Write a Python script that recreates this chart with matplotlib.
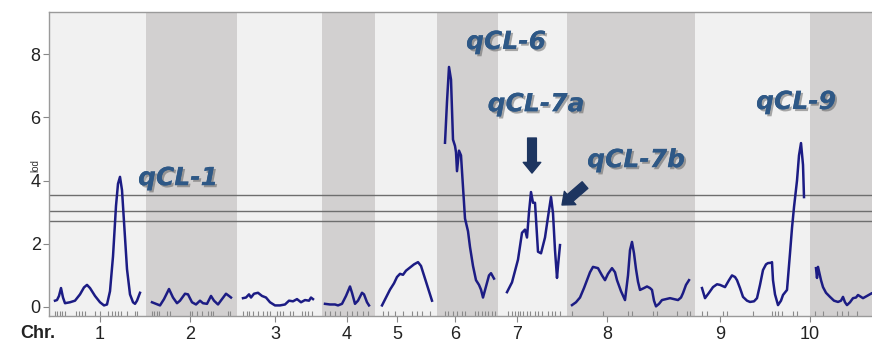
import numpy as np
import matplotlib
matplotlib.use("Agg")
import matplotlib.pyplot as plt
from matplotlib import patheffects as pe

# ---------------- data ----------------
chrom_names = ["1", "2", "3", "4", "5", "6", "7", "8", "9", "10"]
chrom_lengths = [97, 91, 85, 53, 62, 61, 69, 128, 115, 75]
chrom_label_pos = [51, 44, 38, 25, 22, 18, 19, 40, 25, 0]

chr1_pos = [6, 8, 10, 12, 14, 16, 21, 26, 31, 35, 38, 41, 46, 51, 55, 58, 61, 64, 67, 69, 71, 73, 75, 78, 81, 84, 86, 88, 91]
chr1_lod = [0.2, 0.22, 0.35, 0.6, 0.3, 0.12, 0.15, 0.2, 0.4, 0.62, 0.7, 0.6, 0.35, 0.15, 0.05, 0.08, 0.5, 1.6, 3.2, 3.9, 4.12, 3.7, 2.7, 1.2, 0.4, 0.15, 0.1, 0.2, 0.45]
chr2_pos = [6, 10, 14, 18, 23, 27, 31, 34, 39, 42, 46, 50, 54, 57, 61, 65, 68, 72, 76, 80, 83, 85]
chr2_lod = [0.15, 0.1, 0.05, 0.25, 0.57, 0.3, 0.12, 0.2, 0.42, 0.4, 0.15, 0.08, 0.2, 0.12, 0.1, 0.35, 0.2, 0.08, 0.25, 0.42, 0.35, 0.3]
chr3_pos = [6, 9, 12, 14, 17, 21, 25, 29, 33, 38, 43, 48, 52, 56, 60, 64, 68, 72, 74, 76]
chr3_lod = [0.28, 0.3, 0.4, 0.3, 0.42, 0.45, 0.35, 0.3, 0.15, 0.05, 0.05, 0.08, 0.2, 0.18, 0.25, 0.15, 0.22, 0.2, 0.3, 0.25]
chr4_pos = [3, 8, 13, 16, 20, 24, 28, 30, 33, 36, 40, 42, 45, 47]
chr4_lod = [0.1, 0.08, 0.08, 0.05, 0.1, 0.35, 0.65, 0.45, 0.1, 0.2, 0.45, 0.4, 0.15, 0.05]
chr5_pos = [7, 11, 15, 19, 22, 25, 28, 31, 35, 39, 43, 46, 49, 53, 57]
chr5_lod = [0.05, 0.3, 0.55, 0.75, 0.95, 1.05, 1.02, 1.15, 1.25, 1.35, 1.42, 1.3, 1.0, 0.6, 0.2]
chr6_pos = [8, 10, 12, 14, 16, 18, 19, 20, 22, 24, 26, 28, 31, 33, 36, 39, 42, 44, 46, 49, 52, 54, 57]
chr6_lod = [5.2, 6.5, 7.6, 7.2, 5.3, 5.1, 4.9, 4.3, 4.95, 4.8, 3.8, 2.8, 2.4, 1.9, 1.3, 0.85, 0.7, 0.55, 0.3, 0.65, 1.0, 1.07, 0.9]
chr7_pos = [9, 14, 20, 24, 27, 29, 31, 33, 35, 37, 40, 43, 47, 50, 53, 55, 57, 59, 60, 62]
chr7_lod = [0.47, 0.78, 1.5, 2.35, 2.45, 2.2, 3.0, 3.64, 3.3, 3.3, 1.75, 1.7, 2.2, 2.85, 3.48, 2.97, 1.8, 0.92, 1.3, 1.96]
chr8_pos = [5, 9, 13, 17, 20, 23, 26, 31, 35, 38, 41, 45, 48, 50, 54, 58, 61, 63, 65, 67, 69, 71, 73, 77, 80, 83, 85, 87, 89, 92, 95, 99, 103, 107, 111, 114, 116, 119, 122]
chr8_lod = [0.06, 0.15, 0.3, 0.6, 0.85, 1.1, 1.27, 1.23, 1.0, 0.85, 1.05, 1.23, 1.1, 0.85, 0.5, 0.22, 1.0, 1.8, 2.06, 1.7, 1.2, 0.8, 0.54, 0.6, 0.65, 0.6, 0.54, 0.2, 0.02, 0.1, 0.22, 0.25, 0.28, 0.25, 0.22, 0.3, 0.44, 0.7, 0.85]
chr9_pos = [7, 10, 14, 18, 22, 25, 30, 34, 37, 40, 42, 45, 48, 52, 55, 59, 62, 65, 68, 71, 73, 76, 77, 78, 80, 83, 86, 88, 92, 95, 97, 99, 102, 104, 106, 108, 109]
chr9_lod = [0.6, 0.28, 0.45, 0.63, 0.72, 0.7, 0.63, 0.85, 1.0, 0.95, 0.85, 0.6, 0.32, 0.2, 0.16, 0.18, 0.28, 0.7, 1.17, 1.35, 1.39, 1.4, 1.42, 0.85, 0.4, 0.06, 0.2, 0.38, 0.54, 1.7, 2.5, 3.16, 4.0, 4.8, 5.19, 4.5, 3.48]
chr10_pos = [6, 7, 8, 11, 13, 16, 20, 24, 28, 31, 33, 35, 37, 40, 43, 46, 48, 51, 53, 57, 62, 66]
chr10_lod = [1.23, 0.92, 1.27, 0.85, 0.63, 0.45, 0.32, 0.2, 0.16, 0.2, 0.32, 0.15, 0.06, 0.15, 0.28, 0.3, 0.38, 0.32, 0.28, 0.35, 0.44, 0.4]

markers = [
    [6, 8, 11, 13, 16, 27, 30, 33, 36, 46, 51, 59, 63, 66, 69, 72, 78, 86, 88],
    [6, 8, 11, 13, 21, 24, 44, 46, 51, 56, 62, 65, 67, 82, 84],
    [6, 10, 12, 16, 21, 26, 30, 33, 40, 43, 46, 53, 56, 65, 68, 71, 75],
    [3, 8, 13, 18, 25, 30, 35, 41, 46],
    [8, 13, 20, 28, 37, 42, 47, 55],
    [8, 11, 16, 20, 25, 28, 38, 41, 45, 48, 51, 55, 58],
    [10, 14, 17, 20, 22, 25, 29, 32, 37, 40, 44, 50, 54, 57, 62],
    [5, 36, 61, 65, 86, 90, 110, 120, 123],
    [7, 12, 28, 32, 58, 77, 80, 83, 87, 98, 102],
    [5, 13, 27, 32, 38, 47],
]

thresholds = [3.55, 3.05, 2.72]

qtl_labels = ["qCL-1", "qCL-6", "qCL-7a", "qCL-7b", "qCL-9"]

# ---------------- plotting ----------------
curves = [(chr1_pos, chr1_lod), (chr2_pos, chr2_lod), (chr3_pos, chr3_lod),
          (chr4_pos, chr4_lod), (chr5_pos, chr5_lod), (chr6_pos, chr6_lod),
          (chr7_pos, chr7_lod), (chr8_pos, chr8_lod), (chr9_pos, chr9_lod),
          (chr10_pos, chr10_lod)]

offsets = np.concatenate([[0], np.cumsum(chrom_lengths)[:-1]])

W, H = 872, 344
fig = plt.figure(figsize=(W / 100, H / 100), dpi=100)
ax = fig.add_axes([49 / W, (H - 316) / H, 823 / W, (316 - 12) / H])

ylo, yhi = -0.285, 9.34
xmax = 823
ax.set_xlim(0, xmax)
ax.set_ylim(ylo, yhi)

light, dark = "#f1f1f1", "#d2d0d0"
for i, (off, L) in enumerate(zip(offsets, chrom_lengths)):
    ax.axvspan(off, off + L, color=light if i % 2 == 0 else dark, zorder=0, lw=0)

for t in thresholds:
    ax.axhline(t, color="#6e6e6e", lw=1.0, zorder=1)

for off, (p, l) in zip(offsets, curves):
    ax.plot(off + np.array(p), l, color="#1c1c84", lw=1.8, zorder=3,
            solid_joinstyle="round")

# marker rug
for off, m in zip(offsets, markers):
    ax.vlines(off + np.array(m), ylo, ylo + 0.17, color="#8a8a8a", lw=0.8, zorder=2)

# axes styling
ax.spines["right"].set_visible(False)
for s in ["left", "top", "bottom"]:
    ax.spines[s].set_color("#9a9a9a")
    ax.spines[s].set_linewidth(1.0)

ax.set_yticks([0, 2, 4, 6, 8])
ax.tick_params(axis="y", length=4, color="#888888", labelsize=13, pad=2,
               labelcolor="#222222")
for lab in ax.get_yticklabels():
    lab.set_fontfamily("Liberation Sans")

ax.set_xticks(offsets + np.array(chrom_label_pos))
ax.set_xticklabels(chrom_names, fontfamily="Liberation Sans", fontsize=13,
                   color="#222222")
ax.tick_params(axis="x", length=4, color="#888888", pad=3)

fig.text(38 / W, 1 - 333 / H, "Chr.", ha="center", va="center",
         fontfamily="Liberation Sans", fontweight="bold", fontsize=13,
         color="#222222")
fig.text(35 / W, 1 - 166 / H, "lod", ha="center", va="center", rotation=90,
         fontfamily="Liberation Sans", fontsize=7, color="#333333")

# annotations
txt_color = "#2e5886"
effects = [pe.withSimplePatchShadow(offset=(1.5, -1.5), shadow_rgbFace="#4a4a4a", alpha=0.45),
           pe.Normal()]
label_xy = [(129, 4.08), (457, 8.39), (487, 6.42), (587, 4.65), (747, 6.49)]
for name, (x, y) in zip(qtl_labels, label_xy):
    ax.text(x, y, name, ha="center", va="center", fontsize=18,
            fontfamily="DejaVu Sans", fontweight="bold", fontstyle="oblique",
            color=txt_color, path_effects=effects, zorder=5)

arrow_color = "#1d3560"
ax.annotate("", xy=(483, 4.24), xytext=(483, 5.35),
            arrowprops=dict(arrowstyle="simple,head_length=0.55,head_width=0.9,tail_width=0.45",
                            color=arrow_color, mutation_scale=14, shrinkA=0, shrinkB=0),
            zorder=5)
ax.annotate("", xy=(513, 3.23), xytext=(536, 3.86),
            arrowprops=dict(arrowstyle="simple,head_length=0.55,head_width=0.9,tail_width=0.45",
                            color=arrow_color, mutation_scale=14, shrinkA=0, shrinkB=0),
            zorder=5)

fig.savefig("out.png", dpi=100, facecolor="white")
